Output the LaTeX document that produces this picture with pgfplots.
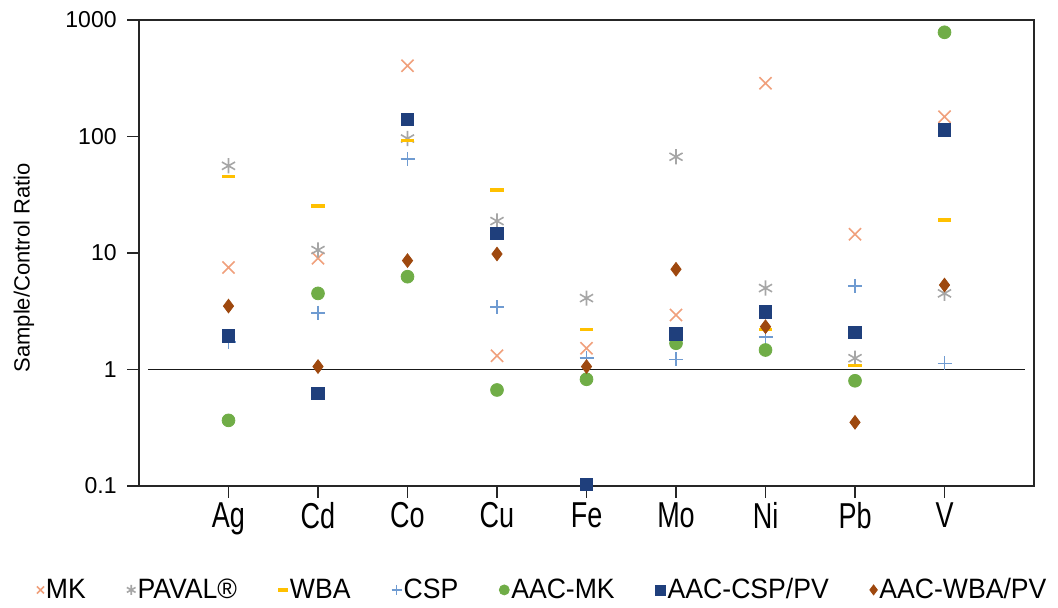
\documentclass[border=0pt]{standalone}
\usepackage{fontspec}
\setmainfont{Liberation Sans}
\newfontfamily\xfont[FakeStretch=0.75]{Liberation Sans}
\newfontfamily\lfont[FakeStretch=0.95]{Liberation Sans}
\usepackage{pgfplots}
\pgfplotsset{compat=1.18}
\definecolor{cMK}{HTML}{F0A07C}
\definecolor{cPA}{HTML}{A6A6A6}
\definecolor{cWBA}{HTML}{FFC000}
\definecolor{cCSP}{HTML}{6F9BD1}
\definecolor{cAMK}{HTML}{70AD47}
\definecolor{cACSP}{HTML}{1F3F7C}
\definecolor{cAWBA}{HTML}{9E480E}
\pgfplotsset{mymk/.style={only marks,
  legend image code/.code={\draw[mark repeat=2,mark phase=2,##1,mark size=2.5pt] plot coordinates {(0pt,0pt) (3.5pt,0pt) (7pt,0pt)};}}}
\begin{document}
\begin{tikzpicture}
\path[use as bounding box] (0,0) rectangle (529pt,304pt);
\begin{axis}[
  at={(69.5pt,61pt)}, anchor=south west,
  scale only axis, width=447.5pt, height=233pt,
  ymode=log, ymin=0.1, ymax=1000, xmin=0, xmax=10,
  xtick={1,2,3,4,5,6,7,8,9},
  xticklabels={Ag,Cd,Co,Cu,Fe,Mo,Ni,Pb,V},
  ytick={0.1,1,10,100,1000},
  yticklabels={0.1,1,10,100,1000},
  minor tick length=0pt,
  tick align=outside, tick pos=left,
  major tick length=6pt,
  axis line style={line width=0.9pt, draw=black!85},
  every tick/.style={line width=0.9pt, black!85},
  xticklabel style={font=\xfont\fontsize{18}{18}\selectfont, inner sep=1pt, yshift=-1pt},
  yticklabel style={font=\fontsize{11.5}{12}\selectfont, inner sep=1pt, xshift=-4pt},
  /pgf/number format/assume math mode=true,
  ylabel={Sample/Control Ratio},
  ylabel style={at={(axis description cs:-0.1285,0.468)}, anchor=center, font=\fontsize{11}{12}\selectfont},
  clip=false,
  legend columns=7,
  legend style={draw=none, at={(0.451,-0.223)}, anchor=center,
    font=\lfont\fontsize{14}{14}\selectfont,
    nodes={inner sep=1pt},
    /tikz/every even column/.append style={column sep=19.5pt},
    /tikz/every odd column/.append style={column sep=0pt}},
  legend cell align=left,
]
\addplot[black!90, line width=0.9pt, forget plot] coordinates {(0.1,1) (9.9,1)};
\addplot[mymk, mark=x, mark size=4.3pt, cMK, line width=0.8pt] coordinates {
(1,7.5) (2,9.0) (3,405) (4,1.31) (5,1.52) (6,2.94) (7,286) (8,14.5) (9,148)};
\addlegendentry{MK}
\addplot[mymk, mark=asterisk, mark size=3.8pt, cPA, line width=0.8pt] coordinates {
(1,56) (2,10.6) (3,96) (4,18.8) (5,4.1) (6,67) (7,5.0) (8,1.25) (9,4.5)};
\addlegendentry{PAVAL\textregistered}
\addplot[mymk, mark=-, mark size=3.3pt, cWBA, line width=1.6pt] coordinates {
(1,45) (2,25.3) (3,93) (4,34.7) (5,2.21) (6,2.0) (7,2.2) (8,1.09) (9,19.2)};
\addlegendentry{WBA}
\addplot[mymk, mark=+, mark size=3.5pt, cCSP, line width=0.8pt] coordinates {
(1,1.73) (2,3.07) (3,64) (4,3.42) (5,1.25) (6,1.22) (7,1.89) (8,5.21) (9,1.13)};
\addlegendentry{CSP}
\addplot[mymk, mark=*, mark size=3.2pt, cAMK, mark options={draw=cAMK, fill=cAMK}] coordinates {
(1,0.366) (2,4.5) (3,6.26) (4,0.667) (5,0.824) (6,1.68) (7,1.47) (8,0.80) (9,784)};
\addlegendentry{AAC-MK}
\addplot[mymk, mark=square*, mark size=3.1pt, cACSP, mark options={draw=cACSP, fill=cACSP}] coordinates {
(1,1.94) (2,0.625) (3,141) (4,14.8) (5,0.103) (6,2.02) (7,3.12) (8,2.09) (9,114)};
\addlegendentry{AAC-CSP/PV}
\addplot[mymk, mark=diamond*, mark size=3.4pt, cAWBA, mark options={draw=cAWBA, fill=cAWBA}] coordinates {
(1,3.5) (2,1.06) (3,8.6) (4,9.8) (5,1.06) (6,7.25) (7,2.33) (8,0.352) (9,5.31)};
\addlegendentry{AAC-WBA/PV}
\end{axis}
\end{tikzpicture}
\end{document}
